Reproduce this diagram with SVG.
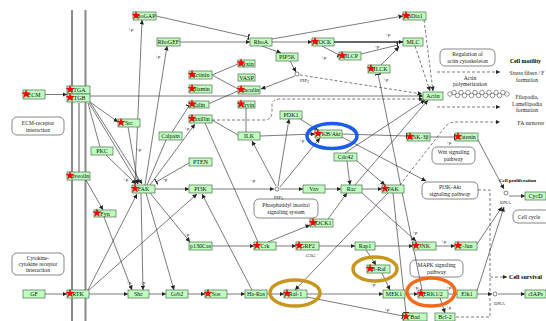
<svg xmlns="http://www.w3.org/2000/svg" xmlns:xlink="http://www.w3.org/1999/xlink" width="546" height="321" viewBox="0 0 546 321">
<style>
.n rect{fill:#bfffbf;stroke:#4d6b4d;stroke-width:.7}
.n text,.t{font-family:"Liberation Serif",serif;font-size:6px;text-anchor:middle;fill:#111}
.e{stroke:#333;stroke-width:.65;fill:none}
.d{stroke-dasharray:3 2}
.pw rect{fill:#fff;stroke:#555;stroke-width:.7}
.pw text{font-family:"Liberation Serif",serif;font-size:5.6px;text-anchor:middle;fill:#222}
.lb{font-family:"Liberation Serif",serif;font-size:5px;fill:#222}
.bd{font-family:"Liberation Serif",serif;font-size:6px;font-weight:bold;fill:#000}
.out{font-family:"Liberation Serif",serif;font-size:5.6px;text-anchor:middle;fill:#222}
.mem{stroke:#8a8a8a;stroke-width:2;fill:none}
.ring{fill:none;stroke-width:3.5}
.cc{fill:none;stroke:#555;stroke-width:.6}
</style>
<defs>
<marker id="a" viewBox="0 0 6 6" refX="6" refY="3" markerWidth="4.5" markerHeight="4.5" orient="auto" markerUnits="userSpaceOnUse"><path d="M0,0L6,3L0,6Z" fill="#222"/></marker>
<marker id="t" viewBox="0 0 2 8" refX="1.5" refY="4" markerWidth="1.5" markerHeight="6" orient="auto" markerUnits="userSpaceOnUse"><path d="M0,0H2V8H0Z" fill="#222"/></marker>
<path id="star" d="M0,-4.3L1,-1.38L4.09,-1.33L1.63,0.53L2.53,3.48L0,1.72L-2.53,3.48L-1.63,0.53L-4.09,-1.33L-1,-1.38Z" fill="#f00" stroke="#b00" stroke-width=".3"/>
</defs>

<g id="membrane">
<path class="mem" d="M72,10V321M85.5,10V321"/>
<path class="mem" style="stroke-width:1.4" d="M79,103V172"/>
</g>

<g id="pathways" class="pw">
<g id="p-ecm"><rect x="12" y="117" width="52" height="18" rx="5"/><text x="38" y="125">ECM-receptor</text><text x="38" y="131.5">interaction</text></g>
<g id="p-cyt"><rect x="12" y="253" width="52" height="22" rx="5"/><text x="38" y="260">Cytokine-</text><text x="38" y="266">cytokine receptor</text><text x="38" y="272">interaction</text></g>
<g id="p-reg"><rect x="440" y="49" width="55" height="17" rx="5"/><text x="467.5" y="56">Regulation of</text><text x="467.5" y="62.5">actin cytoskeleton</text></g>
<g id="p-wnt"><rect x="432" y="147" width="43" height="17" rx="5"/><text x="453.5" y="154">Wnt signaling</text><text x="453.5" y="160.5">pathway</text></g>
<g id="p-pi3k"><rect x="422" y="182" width="56" height="17" rx="5"/><text x="450" y="189">PI3K-Akt</text><text x="450" y="195.5">signaling pathway</text></g>
<g id="p-pis"><rect x="254" y="199" width="64" height="19" rx="5"/><text x="286" y="207">Phosphatidyl inositol</text><text x="286" y="214">signaling system</text></g>
<g id="p-mapk"><rect x="410" y="260" width="53" height="17" rx="5"/><text x="436.5" y="267">MAPK signaling</text><text x="436.5" y="273.5">pathway</text></g>
<g id="p-cc"><rect x="513" y="210" width="40" height="13" rx="5"/><text x="529" y="218.5">Cell cycle</text></g>
</g>

<g id="connectors">
<g marker-end="url(#a)">
<path class="e" d="M45,94.5H67"/>
<path class="e" d="M45,294H67"/>
<path class="e" d="M89,294H128"/>
<path class="e" d="M149,294H166"/>
<path class="e" d="M188,294H205"/>
<path class="e" d="M227,294H245"/>
<path class="e" d="M267,294H284"/>
<path class="e" d="M307,294H383"/>
<path class="e" d="M405,294H418"/>
<path class="e" d="M448,294H457"/>
<path class="e" d="M477,294H492"/>
<path class="e" d="M498,294H525"/>
<path class="e" d="M212,246H254"/>
<path class="e" d="M276,246H296"/>
<path class="e" d="M319,246H355"/>
<path class="e" d="M375,246H413"/>
<path class="e" d="M436,246H455"/>
<path class="e" d="M268,242L310,225"/>
<path class="e" d="M328,219L347,193"/>
<path class="e" d="M366,250L376,265"/>
<path class="e" d="M382,273L390,290"/>
<path class="e" d="M388,193L295,290"/>
<path class="e" d="M440,298L445,313"/>
<path class="e" d="M477,244L502,207"/>
<path class="e" d="M477,291L504,207"/>
<path class="e" d="M509,196H525"/>
<path class="e" d="M478,140L504,189"/>
<path class="e" d="M342,137L426,181"/>
<path class="e" d="M300,119L318,130"/>
<path class="e" d="M260,136L315,134"/>
<path class="e" d="M278,186L289,119"/>
<path class="e" d="M280,187L320,138"/>
<path class="e" d="M280,189H303"/>
<path class="e" d="M325,189H341"/>
<path class="e" d="M362,189H382"/>
<path class="e" d="M347,161L350,185"/>
<path class="e" d="M357,161L385,185"/>
<path class="e" d="M212,189H274"/>
<path class="e" d="M276,186L252,141"/>
<path class="e" d="M155,189H189"/>
<path class="e" d="M150,185L195,124"/>
<path class="e" d="M128,127L138,184"/>
<path class="e" d="M90,102L118,122"/>
<path class="e" d="M89,103L138,184"/>
<path class="e" d="M90,102L142,184"/>
<path class="e" d="M106,155L136,184"/>
<path class="e" d="M86,180L103,210"/>
<path class="e" d="M104,217L132,290"/>
<path class="e" d="M141,193L143,290"/>
<path class="e" d="M146,193L174,290"/>
<path class="e" d="M150,193L190,242"/>
<path class="e" d="M88,290L137,194"/>
<path class="e" d="M89,290L197,194"/>
<path class="e" d="M252,290L202,194"/>
<path class="e" d="M135,185L142,20"/>
<path class="e" d="M145,185L167,46"/>
<path class="e" d="M180,42H250"/>
<path class="e" d="M272,42H312"/>
<path class="e" d="M272,39L403,16"/>
<path class="e" d="M262,46L281,53"/>
<path class="e" style="stroke-width:1.3" d="M334,42H403"/>
<path class="e" d="M381,65L399,47"/>
<path class="e" d="M290,61L296,72"/>
<path class="e" d="M295,76L261,89"/>
<path class="e" d="M90,96H423"/>
<path class="e" d="M355,185L428,100"/>
<path class="e" d="M345,153L425,100"/>
<path class="e" d="M362,193L416,241"/>
<path class="e d" d="M300,75L422,94"/>
<path class="e d" d="M424,20L433,91"/>
<path class="e d" d="M415,46L430,91"/>
<path class="e d" d="M212,120H264Q272,120 272,112V105Q272,99 280,99H423"/>
<path class="e d" d="M400,185L445,127Q449,122 456,122H500"/>
<path class="e d" d="M437,72H500"/>
<path class="e d" d="M437,107H500"/>
<path class="e d" d="M490,277H507"/>
</g>
<g marker-end="url(#t)">
<path class="e" d="M307,297L403,316"/>
<path class="e" d="M393,193L406,313"/>
<path class="e" d="M430,137H455"/>
<path class="e" d="M342,134L407,136"/>
<path class="e" d="M189,163L156,182"/>
<path class="e" d="M172,132L189,106"/>
<path class="e" d="M156,16L249,37"/>
<path class="e" d="M322,46L339,55"/>
<path class="e" d="M361,54L398,45"/>
<path class="e" d="M422,290L378,74"/>
</g>
<path class="e d" d="M478,190H490V317H455"/>
<path class="e" d="M212,120L238,135"/>
<path class="e" d="M246,108V132"/>
<path class="e" d="M147,185L166,140"/>
<path class="e" d="M88,103L100,147"/>
<path class="e" d="M212,75L238,64"/>
<path class="e" d="M212,75L238,89"/>
<path class="e" d="M208,104L238,91"/>
<path class="e" d="M258,242L205,123"/>
</g>

<g id="labels">
<text class="lb" x="128" y="31">+p</text>
<text class="lb" x="155" y="58">+p</text>
<text class="lb" x="385" y="36">+p</text>
<text class="lb" x="321" y="59">+p</text>
<text class="lb" x="375" y="48">-p</text>
<text class="lb" x="383" y="81">+p</text>
<text class="lb" x="123" y="181">+p</text>
<text class="lb" x="136" y="151">+p</text>
<text class="lb" x="184" y="130">+p</text>
<text class="lb" x="163" y="181">-p</text>
<text class="lb" x="251" y="182">-p</text>
<text class="lb" x="299" y="142">+p</text>
<text class="lb" x="446" y="144">+p</text>
<text class="lb" x="184" y="236">+p</text>
<text class="lb" x="126" y="284">+p</text>
<text class="lb" x="140" y="284">+p</text>
<text class="lb" x="412" y="234">+p</text>
<text class="lb" x="441" y="243">+p</text>
<text class="lb" x="370" y="286">+p</text>
<text class="lb" x="413" y="289">+p</text>
<text class="lb" x="446" y="289">+p</text>
<text class="lb" x="446" y="309">+p</text>
<text class="lb" x="384" y="311">+p</text>
<circle cx="297" cy="74" r="2" fill="#fff" stroke="#333" stroke-width=".6"/>
<text class="lb" x="300" y="82">PIP<tspan font-size="3.6" dy="1">2</tspan></text>
<circle cx="277" cy="189" r="2" fill="#fff" stroke="#333" stroke-width=".6"/>
<text class="lb" x="274" y="199">PIP<tspan font-size="3.6" dy="1">3</tspan></text>
<text class="lb" x="306" y="257">C3G</text>
<circle cx="506" cy="193" r="2" fill="#fff" stroke="#333" stroke-width=".6"/>
<text class="lb" x="500" y="204">DNA</text>
<circle cx="495" cy="294" r="2" fill="#fff" stroke="#333" stroke-width=".6"/>
<text class="lb" x="494" y="305">DNA</text>
<text class="out" x="470" y="80">Actin</text>
<text class="out" x="470" y="86">polymerization</text>
<g id="actin-chain">
<circle class="cc" cx="450" cy="94" r="2.3"/><circle class="cc" cx="454" cy="92.5" r="2.3"/><circle class="cc" cx="457.5" cy="95.5" r="2.3"/><circle class="cc" cx="461" cy="92.5" r="2.3"/><circle class="cc" cx="464.5" cy="95.5" r="2.3"/><circle class="cc" cx="468" cy="92.5" r="2.3"/><circle class="cc" cx="471.5" cy="95.5" r="2.3"/><circle class="cc" cx="475" cy="92.5" r="2.3"/><circle class="cc" cx="478.5" cy="95.5" r="2.3"/><circle class="cc" cx="482" cy="92.5" r="2.3"/><circle class="cc" cx="485.5" cy="95.5" r="2.3"/><circle class="cc" cx="489" cy="92.5" r="2.3"/><circle class="cc" cx="492.5" cy="95.5" r="2.3"/><circle class="cc" cx="496" cy="92.5" r="2.3"/><circle class="cc" cx="499.5" cy="95.5" r="2.3"/><circle class="cc" cx="503" cy="92.5" r="2.3"/><circle class="cc" cx="507" cy="94" r="2.3"/>
</g>
<text class="bd" x="510" y="63" textLength="31" lengthAdjust="spacingAndGlyphs">Cell motility</text>
<text class="out" x="527" y="75">Stress fibers / F</text>
<text class="out" x="527" y="81.5">formation</text>
<text class="out" x="527" y="99">Filopodia,</text>
<text class="out" x="527" y="105.5">Lamellipodia</text>
<text class="out" x="527" y="112">formation</text>
<text class="out" x="531" y="125">FA turnover</text>
<text class="bd" x="499" y="182" style="font-size:5px">Cell proliferation</text>
<text class="bd" x="509" y="279" textLength="33" lengthAdjust="spacingAndGlyphs">Cell survival</text>
</g>

<g id="nodes" class="n">
<g id="n-RhoGAP"><rect x="133" y="12" width="23" height="8"/><text x="144.5" y="18">RhoGAP</text><use xlink:href="#star" x="136" y="15.5"/></g>
<g id="n-RhoGEF"><rect x="157" y="38" width="23" height="8"/><text x="168.5" y="44">RhoGEF</text></g>
<g id="n-RhoA"><rect x="250" y="38" width="22" height="8"/><text x="261" y="44">RhoA</text></g>
<g id="n-ROCK"><rect x="312" y="38" width="22" height="8"/><text x="323" y="44">ROCK</text><use xlink:href="#star" x="315" y="41.5"/></g>
<g id="n-mDia1"><rect x="403" y="12" width="23" height="8"/><text x="414.5" y="18">mDia1</text><use xlink:href="#star" x="406" y="15.5"/></g>
<g id="n-MLC"><rect x="403" y="38" width="20" height="8"/><text x="413" y="44">MLC</text></g>
<g id="n-PIP5K"><rect x="276" y="53" width="22" height="8"/><text x="287" y="59">PIP5K</text></g>
<g id="n-MLCP"><rect x="339" y="52" width="22" height="8"/><text x="350" y="58">MLCP</text><use xlink:href="#star" x="342" y="55.5"/></g>
<g id="n-MLCK"><rect x="368" y="65" width="22" height="8"/><text x="379" y="71">MLCK</text><use xlink:href="#star" x="371" y="68.5"/></g>
<g id="n-Actin"><rect x="423" y="92" width="20" height="8"/><text x="433" y="98">Actin</text></g>
<g id="n-Actinin"><rect x="189" y="71" width="23" height="8"/><text x="200.5" y="77">Actinin</text><use xlink:href="#star" x="192" y="74.5"/></g>
<g id="n-Zyxin"><rect x="238" y="60" width="17" height="7"/><text x="246.5" y="65.5">Zyxin</text><use xlink:href="#star" x="241" y="63"/></g>
<g id="n-VASP"><rect x="238" y="74" width="17" height="7"/><text x="246.5" y="79.5">VASP</text></g>
<g id="n-Filamin"><rect x="189" y="85" width="23" height="8"/><text x="200.5" y="91">Filamin</text><use xlink:href="#star" x="192" y="88.5"/></g>
<g id="n-Vinculin"><rect x="238" y="86" width="22" height="8"/><text x="249" y="92">Vinculin</text><use xlink:href="#star" x="241" y="89.5"/></g>
<g id="n-Talin"><rect x="189" y="101" width="20" height="7"/><text x="199" y="106.5">Talin</text><use xlink:href="#star" x="192" y="104"/></g>
<g id="n-Parvin"><rect x="238" y="101" width="17" height="7"/><text x="246.5" y="106.5">Parvin</text><use xlink:href="#star" x="241" y="104"/></g>
<g id="n-Paxillin"><rect x="189" y="115" width="23" height="8"/><text x="200.5" y="121">Paxillin</text><use xlink:href="#star" x="192" y="118.5"/></g>
<g id="n-ECM"><rect x="23" y="90" width="22" height="9"/><text x="34" y="96.5">ECM</text><use xlink:href="#star" x="26" y="94"/></g>
<g id="n-ITGA"><rect x="67" y="86" width="23" height="8"/><text x="78.5" y="92">ITGA</text><use xlink:href="#star" x="70" y="89.5"/></g>
<g id="n-ITGB"><rect x="67" y="94" width="23" height="8"/><text x="78.5" y="100">ITGB</text><use xlink:href="#star" x="70" y="97.5"/></g>
<g id="n-Src"><rect x="118" y="119" width="22" height="8"/><text x="129" y="125">Src</text><use xlink:href="#star" x="121" y="122.5"/></g>
<g id="n-PKC"><rect x="91" y="147" width="22" height="8"/><text x="102" y="153">PKC</text></g>
<g id="n-Caveolin"><rect x="67" y="172" width="23" height="8"/><text x="78.5" y="178">Caveolin</text><use xlink:href="#star" x="70" y="175.5"/></g>
<g id="n-FAK"><rect x="132" y="185" width="23" height="8"/><text x="143.5" y="191">FAK</text><use xlink:href="#star" x="135" y="188.5"/></g>
<g id="n-Calpain"><rect x="159" y="132" width="23" height="8"/><text x="170.5" y="138">Calpain</text></g>
<g id="n-PTEN"><rect x="189" y="158" width="23" height="8"/><text x="200.5" y="164">PTEN</text></g>
<g id="n-PI3K"><rect x="189" y="185" width="23" height="8"/><text x="200.5" y="191">PI3K</text></g>
<g id="n-ILK"><rect x="238" y="132" width="22" height="8"/><text x="249" y="138">ILK</text></g>
<g id="n-PDK1"><rect x="280" y="111" width="22" height="8"/><text x="291" y="117">PDK1</text></g>
<g id="n-PKB"><rect x="315" y="130" width="27" height="8"/><text x="329.5" y="136">PKB/Akt</text><use xlink:href="#star" x="318" y="133.5"/></g>
<g id="n-Cdc42"><rect x="334" y="153" width="23" height="8"/><text x="345.5" y="159">Cdc42</text></g>
<g id="n-Vav"><rect x="303" y="185" width="22" height="8"/><text x="314" y="191">Vav</text></g>
<g id="n-Rac"><rect x="341" y="185" width="21" height="8"/><text x="351.5" y="191">Rac</text></g>
<g id="n-PAK"><rect x="382" y="185" width="22" height="8"/><text x="393" y="191">PAK</text><use xlink:href="#star" x="385" y="188.5"/></g>
<g id="n-GSK3B"><rect x="407" y="133" width="23" height="8"/><text x="418.5" y="139">GSK-3β</text><use xlink:href="#star" x="410" y="136.5"/></g>
<g id="n-Catenin"><rect x="455" y="133" width="23" height="8"/><text x="466.5" y="139">Catenin</text><use xlink:href="#star" x="458" y="136.5"/></g>
<g id="n-CycD"><rect x="525" y="192" width="21" height="8"/><text x="535.5" y="198">CycD</text></g>
<g id="n-Fyn"><rect x="94" y="210" width="22" height="7"/><text x="105" y="215.5">Fyn</text><use xlink:href="#star" x="97" y="213"/></g>
<g id="n-GF"><rect x="23" y="290" width="22" height="8"/><text x="34" y="296">GF</text></g>
<g id="n-RTK"><rect x="67" y="290" width="22" height="8"/><text x="78" y="296">RTK</text><use xlink:href="#star" x="70" y="293.5"/></g>
<g id="n-Shc"><rect x="128" y="290" width="21" height="8"/><text x="138.5" y="296">Shc</text></g>
<g id="n-Grb2"><rect x="166" y="290" width="22" height="8"/><text x="177" y="296">Grb2</text></g>
<g id="n-Sos"><rect x="205" y="290" width="22" height="8"/><text x="216" y="296">Sos</text><use xlink:href="#star" x="208" y="293.5"/></g>
<g id="n-HaRas"><rect x="245" y="290" width="22" height="8"/><text x="256" y="296">Ha-Ras</text></g>
<g id="n-p130Cas"><rect x="189" y="242" width="23" height="8"/><text x="200.5" y="248">p130Cas</text></g>
<g id="n-Crk"><rect x="254" y="242" width="22" height="8"/><text x="265" y="248">Crk</text><use xlink:href="#star" x="257" y="245.5"/></g>
<g id="n-DOCK1"><rect x="310" y="219" width="23" height="8"/><text x="321.5" y="225">DOCK1</text><use xlink:href="#star" x="313" y="222.5"/></g>
<g id="n-GRF2"><rect x="296" y="242" width="23" height="8"/><text x="307.5" y="248">GRF2</text><use xlink:href="#star" x="299" y="245.5"/></g>
<g id="n-Rap1"><rect x="355" y="242" width="20" height="8"/><text x="365" y="248">Rap1</text></g>
<g id="n-BRaf"><rect x="367" y="265" width="23" height="8"/><text x="378.5" y="271">B-Raf</text><use xlink:href="#star" x="370" y="268.5"/></g>
<g id="n-Raf1"><rect x="284" y="290" width="23" height="8"/><text x="295.5" y="296">Raf-1</text><use xlink:href="#star" x="287" y="293.5"/></g>
<g id="n-MEK1"><rect x="383" y="290" width="22" height="8"/><text x="394" y="296">MEK1</text></g>
<g id="n-ERK"><rect x="418" y="290" width="30" height="8"/><text x="433" y="296">ERK1/2</text><use xlink:href="#star" x="421" y="293.5"/></g>
<g id="n-Elk1"><rect x="457" y="290" width="20" height="8"/><text x="467" y="296">Elk1</text></g>
<g id="n-JNK"><rect x="413" y="242" width="23" height="8"/><text x="424.5" y="248">JNK</text><use xlink:href="#star" x="416" y="245.5"/></g>
<g id="n-cJun"><rect x="455" y="242" width="22" height="8"/><text x="466" y="248">c-Jun</text><use xlink:href="#star" x="458" y="245.5"/></g>
<g id="n-cIAPs"><rect x="525" y="290" width="21" height="8"/><text x="535.5" y="296">cIAPs</text></g>
<g id="n-Bad"><rect x="403" y="313" width="24" height="8"/><text x="415" y="319">Bad</text><use xlink:href="#star" x="406" y="316.5"/></g>
<g id="n-Bcl2"><rect x="435" y="313" width="20" height="8"/><text x="445" y="319">Bcl-2</text></g>
</g>

<g id="highlights">
<ellipse class="ring" cx="332" cy="136" rx="25" ry="12.5" stroke="#1a5de6"/>
<ellipse class="ring" cx="375" cy="269" rx="22" ry="12" stroke="#c8961c"/>
<ellipse class="ring" cx="295" cy="293" rx="25" ry="13" stroke="#c8961c"/>
<ellipse class="ring" cx="431" cy="292" rx="24" ry="14" stroke="#f26a1b"/>
</g>
</svg>
